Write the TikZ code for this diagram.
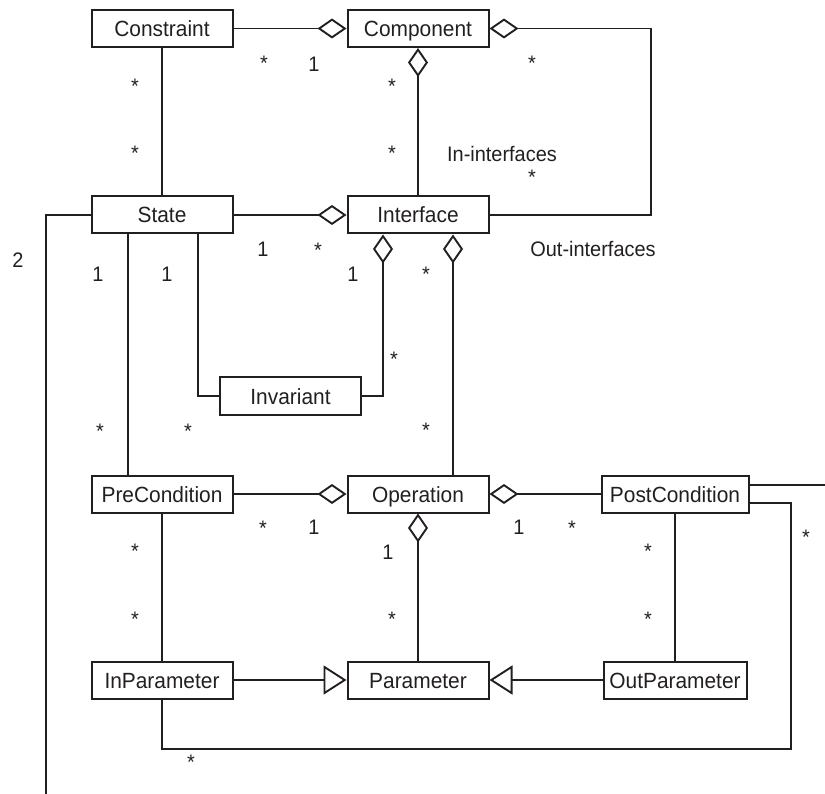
\documentclass[tikz,border=0pt]{standalone}
\usepackage{fontspec}
\setmainfont[FakeStretch=0.95]{Liberation Sans}
\usetikzlibrary{arrows.meta}
\definecolor{ink}{HTML}{231F20}
\tikzset{
  cls/.style={draw=ink, line width=2pt, minimum width=141pt, minimum height=37pt,
    inner sep=0pt, text height=16pt, text depth=0pt, text=ink,
    font=\fontsize{22}{26}\selectfont},
  link/.style={draw=ink, line width=1.9pt},
  aggend/.style={link, -{Diamond[open, length=29pt, width=20pt]}},
  aggstart/.style={link, {Diamond[open, length=29pt, width=20pt]}-},
  genend/.style={link, -{Triangle[open, length=23pt, width=29pt]}},
  mult/.style={text=ink, font=\fontsize{21}{24}\selectfont, inner sep=0pt},
  many/.style={mult, yshift=-4.5pt}
}
\begin{document}
\begin{tikzpicture}[x=1pt, y=-1pt]
\useasboundingbox (0,0) rectangle (825,794);

% classes
\node[cls] (constraint) at (162,28.5) {Constraint};
\node[cls] (component)  at (418,28.5) {Component};
\node[cls] (state)      at (162,215)  {State};
\node[cls] (iface)      at (418,215)  {Interface};
\node[cls] (invariant)  at (290.5,396) {Invariant};
\node[cls] (pre)        at (162,494)  {PreCondition};
\node[cls] (op)         at (418,494)  {Operation};
\node[cls, minimum width=147pt] (post) at (675,494) {PostCondition};
\node[cls] (inparam)    at (162,680)  {InParameter};
\node[cls] (param)      at (418,680)  {Parameter};
\node[cls, minimum width=143pt] (outparam) at (675,680) {OutParameter};

% free ends and bends
\coordinate (outloop) at (651,215);
\coordinate (stateend) at (46,794);
\coordinate (postend) at (825,485);
\coordinate (postloop) at (791,749);

% associations and aggregations
\draw[aggend] (constraint.east) -- (component.west);
\draw[aggstart] (component.east) -| (outloop) -- (iface.east);
\draw[aggstart] (component.south) -- (iface.north);
\draw[link] (constraint.south) -- (state.north);
\draw[aggend] (state.east) -- (iface.west);
\draw[link] (state.west) -| (stateend);
\draw[link] ([xshift=-34pt]state.south) -- ([xshift=-34pt]pre.north);
\draw[link] ([xshift=36pt]state.south) |- (invariant.west);
\draw[aggstart] ([xshift=-35pt]iface.south) |- (invariant.east);
\draw[aggstart] ([xshift=35pt]iface.south) -- ([xshift=35pt]op.north);
\draw[aggend] (pre.east) -- (op.west);
\draw[aggstart] (op.east) -- (post.west);
\draw[aggstart] (op.south) -- (param.north);
\draw[link] ([yshift=9pt]post.east) -- (postend);
\draw[link] ([yshift=-9pt]post.east) -| (postloop) -| (inparam.south);
\draw[link] (post.south) -- (outparam.north);
\draw[link] (pre.south) -- (inparam.north);
\draw[genend] (inparam.east) -- (param.west);
\draw[genend] (outparam.west) -- (param.east);

% multiplicities and role names
\node[many] (m1)  at (264,59)  {*};
\node[mult] (m2)  at (314,64)  {1};
\node[many] (m3)  at (135,82)  {*};
\node[many] (m4)  at (135,149) {*};
\node[many] (m5)  at (392,82)  {*};
\node[many] (m6)  at (392,149) {*};
\node[many] (m7)  at (532,59)  {*};
\node[mult] (r1)  at (502,154) {In-interfaces};
\node[many] (m8)  at (532,173) {*};
\node[mult] (r2)  at (593,249) {Out-interfaces};
\node[mult] (m9)  at (263,249) {1};
\node[many] (m10) at (318,246) {*};
\node[mult] (m11) at (18,260)  {2};
\node[mult] (m12) at (98,274)  {1};
\node[mult] (m13) at (167,274) {1};
\node[mult] (m14) at (353,274) {1};
\node[many] (m15) at (426,270) {*};
\node[many] (m16) at (394,355) {*};
\node[many] (m17) at (100,427) {*};
\node[many] (m18) at (188,427) {*};
\node[many] (m19) at (426,426) {*};
\node[many] (m20) at (263,524) {*};
\node[mult] (m21) at (314,527) {1};
\node[mult] (m22) at (519,527) {1};
\node[many] (m23) at (572,524) {*};
\node[many] (m24) at (806,533) {*};
\node[many] (m25) at (135,547) {*};
\node[many] (m26) at (135,615) {*};
\node[mult] (m27) at (388,552) {1};
\node[many] (m28) at (392,615) {*};
\node[many] (m29) at (648,547) {*};
\node[many] (m30) at (648,615) {*};
\node[many] (m31) at (191,758) {*};
\end{tikzpicture}
\end{document}
